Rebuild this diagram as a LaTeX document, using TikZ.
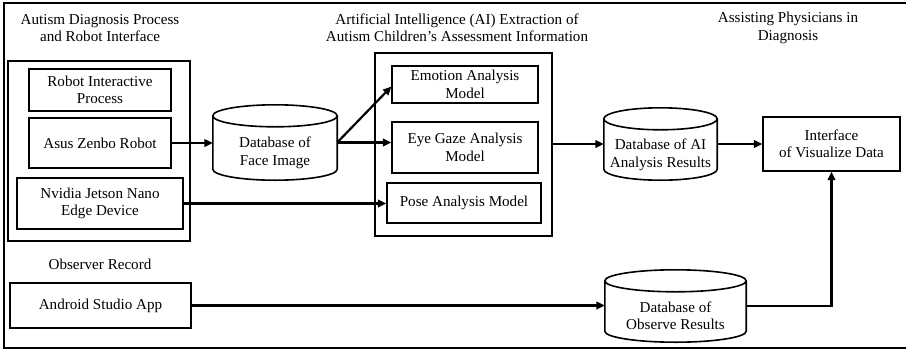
\documentclass[tikz,border=0pt]{standalone}
\usepackage{fontspec}
\setmainfont{Liberation Serif}
\usetikzlibrary{arrows.meta,calc}
\begin{document}
\begin{tikzpicture}[x=1pt,y=-1pt,
  every node/.style={font=\fontsize{15.1}{17.5}\selectfont, align=center, inner sep=0pt},
  box/.style={draw, line width=1.2pt, minimum width=#1},
  group/.style={draw, line width=1.7pt},
  dbbody/.style={minimum width=#1},
  dbline/.style={line width=1.6pt},
  title/.style={},
  arr/.style={line width=2.2pt, -{Triangle[length=8.5pt,width=7.5pt]}}]
\useasboundingbox (0,0) rectangle (906,349);
% outer frame
\draw[line width=2.2pt] (4,3) rectangle (912,348);

% section headings
\node[title] (t1) at (100,28) {Autism Diagnosis Process\\and Robot Interface};
\node[title] (t2) at (457,28) {Artificial Intelligence (AI) Extraction of\\Autism Children’s Assessment Information};
\node[title] (t3) at (788,28) {Assisting Physicians in\\Diagnosis};
\node[title] (t4) at (100,264) {Observer Record};

% robot interface group
\node[group, minimum width=182pt, minimum height=180pt] (leftgrp) at (99,151) {};
\node[box=142pt, minimum height=42pt] (robotproc) at (100,90) {Robot Interactive\\Process};
\node[box=142pt, minimum height=50pt] (asus) at (100,143) {Asus Zenbo Robot};
\node[box=166pt, minimum height=51pt] (nvidia) at (100,203.5) {Nvidia Jetson Nano\\Edge Device};
\node[box=181pt, minimum height=45pt] (android) at (100.5,305.5) {Android Studio App};

% AI extraction group
\node[group, minimum width=177pt, minimum height=183pt] (aibox) at (463.5,144.5) {};
\node[box=146pt, minimum height=37pt] (emotion) at (465,84.5) {Emotion Analysis\\Model};
\node[box=146pt, minimum height=51pt] (eye) at (465,147.5) {Eye Gaze Analysis\\Model};
\node[box=154pt, minimum height=40pt] (pose) at (464,203) {Pose Analysis Model};

% databases
\node[dbbody=124pt, minimum height=75pt,
  label={[yshift=-10.5pt]center:{Database of\\Face Image}}] (face) at (275,142.5) {};
\node[dbbody=113pt, minimum height=72pt,
  label={[yshift=-11pt]center:{Database of AI\\Analysis Results}}] (dbai) at (660.5,144) {};
\node[dbbody=141pt, minimum height=72pt,
  label={[yshift=-10pt]center:{Database of\\Observe Results}}] (dbobs) at (675.5,306) {};
\foreach \d in {face,dbai,dbobs}{
  \draw[dbline] let \p1=(\d.north west), \p2=(\d.south east), \n1={(\x2-\x1)/2} in
    (\x1,\y1-11pt) -- (\x1,\y2+11pt)
    arc[start angle=180, end angle=360, x radius=\n1, y radius=11pt]
    -- (\x2,\y1-11pt)
    arc[start angle=0, end angle=360, x radius=\n1, y radius=11pt];
}

% visualisation interface
\node[box=137pt, minimum height=54pt] (iface) at (831.5,144) {Interface\\of Visualize Data};

% data flow
\draw[arr] (asus.east) -- (asus.east -| face.west);
\draw[arr] (face.east) -- ([yshift=-2pt]emotion.west);
\draw[arr] (face.east) -- (face.east -| eye.west);
\draw[arr] (nvidia.east) -- (nvidia.east -| pose.west);
\draw[arr] (dbai.west -| aibox.east) -- (dbai.west);
\draw[arr] (dbai.east) -- (iface.west);
\draw[arr] (android.east) -- (android.east -| dbobs.west);
\draw[arr] (dbobs.east) -| (iface.south);
\end{tikzpicture}
\end{document}
